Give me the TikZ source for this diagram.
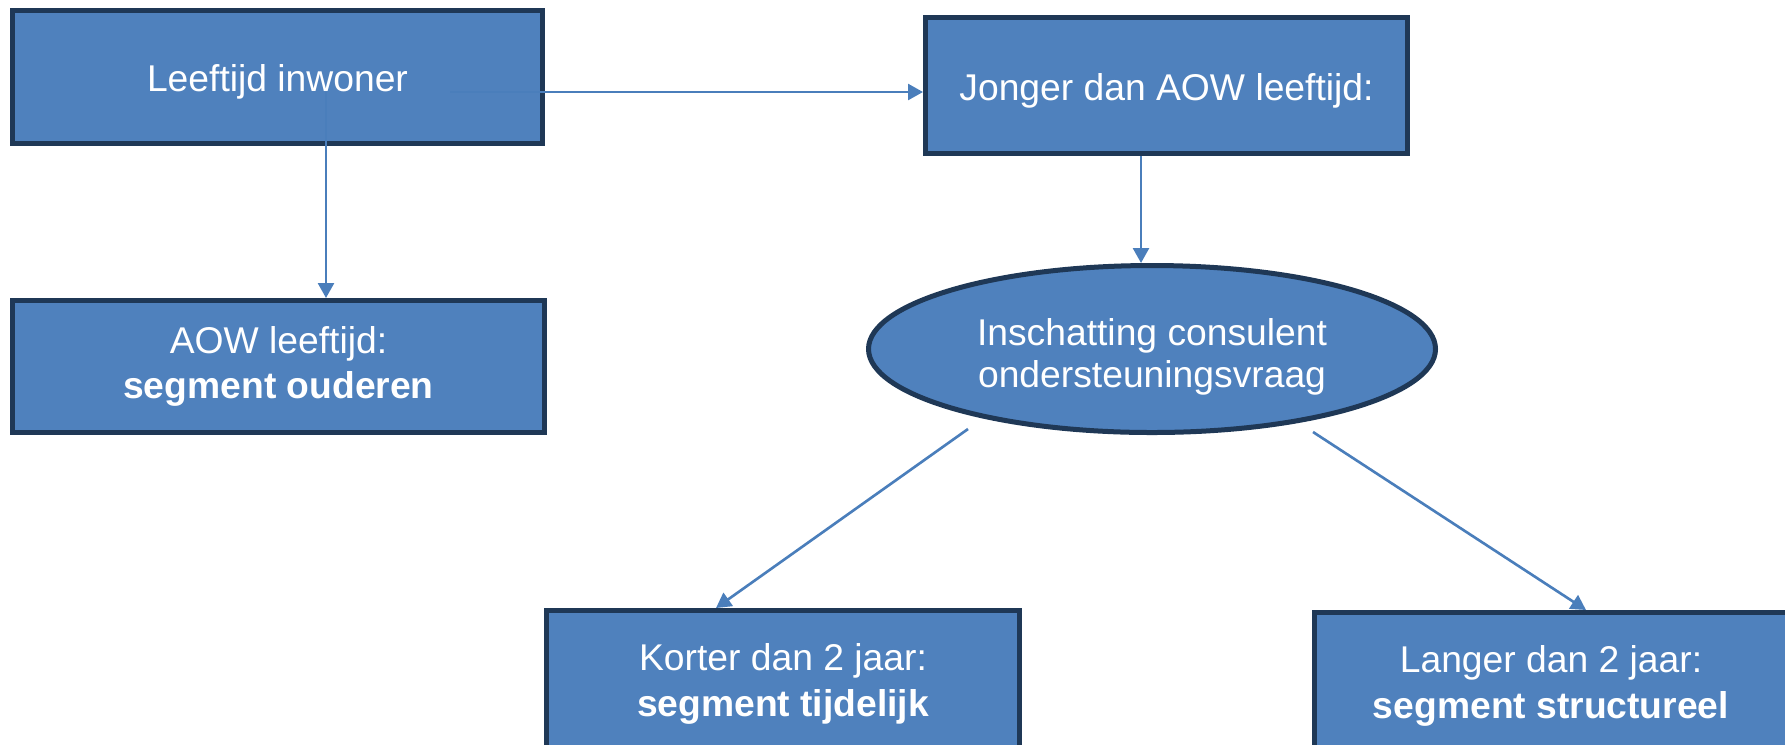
\documentclass[tikz,border=0pt]{standalone}
\usepackage{fontspec}
\setmainfont{Liberation Sans}
\usetikzlibrary{arrows.meta,shapes.geometric}

\definecolor{boxblue}{HTML}{4F81BD}
\definecolor{boxline}{HTML}{1F3856}
\definecolor{flowblue}{HTML}{4A7EBB}

\newcommand{\toppad}[1]{\rule{0pt}{#1}}

\begin{document}
\begin{tikzpicture}[
        segbox/.style={draw=boxline, fill=boxblue, line width=0.05cm, text=white,
            align=center, inner sep=0pt, minimum width=#1,
            font=\fontsize{10.6pt}{13pt}\selectfont},
        segbox/.default=5.3cm,
        askell/.style={ellipse, draw=boxline, fill=boxblue, line width=0.05cm, text=white,
            align=center, inner sep=0pt, minimum width=5.67cm, minimum height=1.67cm,
            font=\fontsize{10.6pt}{12pt}\selectfont},
        flow/.style={draw=flowblue, line width=0.75pt, -{Triangle[length=1.5mm,width=1.6mm]}}
    ]
        \useasboundingbox (0,0) rectangle (17.85,-7.44);
        %\draw[gray, dashed] (0,0) grid (17.85,-7.44);

        \node[segbox, minimum height=1.33cm] (leeftijd) at (2.775,-0.77) {\toppad{0.37cm}Leeftijd inwoner};
        \node[segbox=4.82cm, minimum height=1.36cm] (jonger) at (11.665,-0.855) {\toppad{0.37cm}Jonger dan AOW leeftijd:};
        \node[segbox=5.32cm, minimum height=1.32cm] (ouderen) at (2.785,-3.665) {AOW leeftijd:\\\textbf{segment ouderen}};
        \node[askell] (inschatting) at (11.52,-3.49) {\toppad{0.42cm}Inschatting consulent\\ondersteuningsvraag};
        \node[segbox=4.73cm, minimum height=1.47cm] (tijdelijk) at (7.83,-6.84) {Korter dan 2 jaar:\\\textbf{segment tijdelijk}};
        \node[segbox=4.73cm, minimum height=1.47cm] (structureel) at (15.51,-6.86) {Langer dan 2 jaar:\\\textbf{segment structureel}};

        \coordinate (l1) at ([shift={(1.725,-0.15)}]leeftijd.center);
        \coordinate (l2) at ([shift={(0.485,-0.15)}]leeftijd.center);
        \coordinate (i1) at ([shift={(-1.84,-0.80)}]inschatting.center);
        \coordinate (i2) at ([shift={(1.61,-0.83)}]inschatting.center);

        \draw[flow] (l1) -- (l1 -| jonger.west);
        \draw[flow] (l2) -- (l2 |- ouderen.north);
        \draw[flow] ([xshift=-0.11cm]inschatting.north |- jonger.south) -- ([xshift=-0.11cm]inschatting.north);
        \draw[flow] (i1) -- ([xshift=-0.67cm]tijdelijk.north);
        \draw[flow] (i2) -- ([xshift=0.35cm]structureel.north);
    \end{tikzpicture}
\end{document}
